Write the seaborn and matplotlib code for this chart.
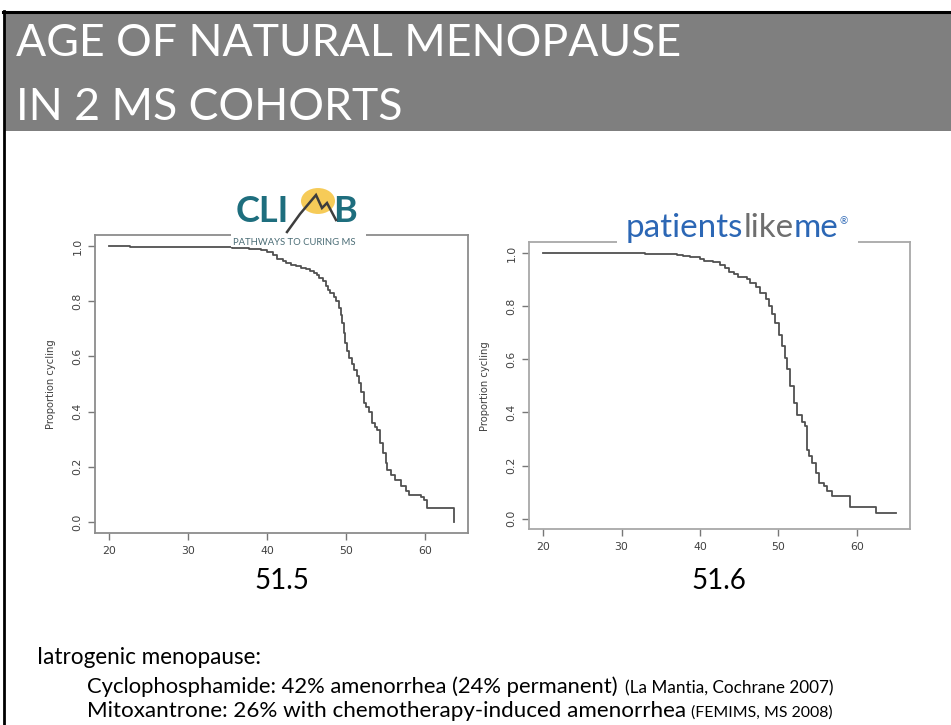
import matplotlib
matplotlib.use("Agg")
import matplotlib.pyplot as plt
import seaborn as sns
import pandas as pd
from matplotlib.patches import Rectangle, Circle
from matplotlib.lines import Line2D

# ---------------- data ----------------
climb_age = [20.0, 22.7, 30.2, 35.6, 37.7, 39.2, 40.0, 40.7, 41.3, 42.0, 42.4, 43.0,
             43.6, 44.3, 44.9, 45.4, 45.9, 46.3, 46.6, 47.0, 47.4, 47.7, 48.0, 48.4,
             48.7, 49.1, 49.3, 49.5, 49.7, 49.9, 50.1, 50.35, 50.7, 51.0, 51.3, 51.6,
             51.9, 52.2, 52.5, 52.9, 53.3, 53.6, 53.9, 54.3, 54.7, 55.0, 55.2, 55.6,
             56.2, 56.9, 57.5, 57.9, 59.4, 59.8, 60.2, 63.6]
climb_prop = [1.000, 0.997, 0.995, 0.992, 0.990, 0.985, 0.978, 0.968, 0.952, 0.944, 0.939, 0.933,
              0.927, 0.921, 0.915, 0.909, 0.903, 0.895, 0.885, 0.872, 0.855, 0.842, 0.830, 0.815,
              0.800, 0.776, 0.750, 0.720, 0.685, 0.650, 0.620, 0.595, 0.572, 0.552, 0.528, 0.504,
              0.470, 0.430, 0.415, 0.400, 0.360, 0.345, 0.335, 0.287, 0.250, 0.215, 0.190, 0.172,
              0.153, 0.129, 0.111, 0.099, 0.090, 0.081, 0.051, 0.000]

plm_age = [20.0, 33.0, 35.8, 37.1, 37.9, 38.8, 40.0, 40.5, 41.7, 42.6, 43.2, 43.7, 44.3,
           44.9, 46.0, 46.4, 47.1, 47.7, 48.4, 48.8, 49.2, 49.6, 50.1, 50.5, 50.8, 51.1,
           51.5, 52.0, 52.4, 53.0, 53.4, 53.6, 53.9, 54.3, 54.8, 55.2, 55.8, 56.2, 56.9,
           59.1, 59.2, 62.5, 65.0]
plm_prop = [1.000, 0.997, 0.995, 0.992, 0.988, 0.985, 0.978, 0.970, 0.964, 0.956, 0.944, 0.927, 0.919,
            0.908, 0.902, 0.887, 0.870, 0.848, 0.828, 0.800, 0.770, 0.735, 0.690, 0.650, 0.605, 0.565,
            0.500, 0.436, 0.390, 0.362, 0.348, 0.260, 0.236, 0.210, 0.173, 0.135, 0.122, 0.104, 0.085,
            0.060, 0.045, 0.023, 0.023]

x_ticks = [20, 30, 40, 50, 60]
y_ticks = [0.0, 0.2, 0.4, 0.6, 0.8, 1.0]
y_label = "Proportion cycling"
medians = ["51.5", "51.6"]
title_lines = ["AGE OF NATURAL MENOPAUSE", "IN 2 MS COHORTS"]

# ---------------- figure ----------------
W, H = 951, 725
fig = plt.figure(figsize=(W / 100, H / 100), dpi=100)
fig.patch.set_facecolor("white")
FONT = "Lato"


def P(x, y):
    return (x / W, 1 - y / H)


def rect_px(x0, y0, x1, y1, **kw):
    fig.patches.append(Rectangle(P(x0, y1), (x1 - x0) / W, (y1 - y0) / H,
                                 transform=fig.transFigure, **kw))


renderer = fig.canvas.get_renderer()


def fit(t, width_px):
    w = t.get_window_extent(renderer).width
    t.set_fontsize(t.get_fontsize() * width_px / w)
    return t


def text_px(x, y, s, **kw):
    kw.setdefault("ha", "left")
    kw.setdefault("va", "baseline")
    return fig.text(*P(x, y), s, **kw)


def right_px(t):
    return t.get_window_extent(renderer).x1


# slide frame + title bar
rect_px(5, 13, 951, 131, facecolor="#7f7f7f", edgecolor="none", zorder=0)
fig.lines.append(Line2D([3 / W, 1], [1 - 12 / H, 1 - 12 / H], transform=fig.transFigure,
                        color="black", lw=2.2))
fig.lines.append(Line2D([4 / W, 4 / W], [0, 1 - 11 / H], transform=fig.transFigure,
                        color="black", lw=2.0))

t1 = text_px(16, 56, title_lines[0], color="white", family=FONT, fontsize=30)
fit(t1, 664)
text_px(16, 120, title_lines[1], color="white", family=FONT, fontsize=t1.get_fontsize())

# ---------------- KM plots ----------------
def km_axes(rect, ages, props, spine_col):
    ax = fig.add_axes(rect)
    df = pd.DataFrame({"age": ages, "prop": props})
    sns.lineplot(data=df, x="age", y="prop", ax=ax, drawstyle="steps-post",
                 color="#505050", lw=1.3, estimator=None, sort=False)
    pad = 0.04 * (max(ages) - min(ages))
    ax.set_xlim(min(ages) - pad, max(ages) + pad)
    ax.set_ylim(-0.04, 1.04)
    ax.set_xticks(x_ticks)
    ax.set_xticklabels([str(v) for v in x_ticks])
    ax.set_yticks(y_ticks)
    ax.set_yticklabels([f"{v:.1f}" for v in y_ticks], rotation=90, va="center")
    ax.tick_params(length=5, width=1, color="#777", labelsize=7.8, labelcolor="#404040",
                   pad=4, direction="out")
    ax.set_xlabel("")
    ax.set_ylabel(y_label, fontsize=7.2, color="#404040", labelpad=12)
    for sp in ax.spines.values():
        sp.set_color(spine_col)
        sp.set_linewidth(1.3)
    ax.set_facecolor("white")
    return ax


ax1 = km_axes([95 / W, 1 - 533 / H, 372.7 / W, 298 / H], climb_age, climb_prop, "#8c8c8c")
ax2 = km_axes([529 / W, 1 - 529.3 / H, 381 / W, 287 / H], plm_age, plm_prop, "#a8a8a8")

# medians
text_px(282, 589, medians[0], ha="center", family=FONT, fontsize=20, color="black")
text_px(719, 589, medians[1], ha="center", family=FONT, fontsize=20, color="black")

# ---------------- CLIMB logo ----------------
rect_px(231, 226, 366, 246.5, facecolor="white", edgecolor="none", zorder=5)
fig.patches.append(Circle(P(318, 201), 17 / W, transform=fig.transFigure,
                          facecolor="#f6cb58", edgecolor="none", zorder=6))
tc = text_px(236, 222, "CLI", color="#1e6e7e", family=FONT, fontweight="bold",
             fontsize=26, zorder=7)
text_px(333, 222, "B", color="#1e6e7e", family=FONT, fontweight="bold",
        fontsize=26, zorder=7)
mx = [287, 300, 316, 322, 327, 336]
my = [232, 214, 195, 208, 203, 220]
fig.lines.append(Line2D([v / W for v in mx], [1 - v / H for v in my], transform=fig.transFigure,
                        color="#3d3d3d", lw=1.8, zorder=8, solid_joinstyle="miter"))
tp = text_px(233, 245, "PATHWAYS TO CURING MS", color="#4b6d76", family=FONT,
             fontsize=6, zorder=7)
fit(tp, 124)

# ---------------- patientslikeme logo ----------------
rect_px(617, 232, 858, 247, facecolor="white", edgecolor="none", zorder=5)
tmp = text_px(626, 237, "patientslikeme", family=FONT, fontsize=24)
fit(tmp, 212)
fs = tmp.get_fontsize()
tmp.remove()
x = 626
for s, col in [("patients", "#2c67b5"), ("like", "#6e6e6e"), ("me", "#2c67b5")]:
    tt = text_px(x, 237, s, color=col, family=FONT, fontsize=fs, zorder=7)
    x = right_px(tt)
text_px(x + 1, 224, "®", color="#2c67b5", family=FONT, fontsize=fs * 0.3, zorder=7)

# ---------------- bottom text ----------------
b1 = text_px(37, 664, "Iatrogenic menopause:", family=FONT, fontsize=16, color="black")
fit(b1, 225)
b2 = text_px(87, 693, "Cyclophosphamide: 42% amenorrhea (24% permanent)", family=FONT,
             fontsize=16, color="black")
fit(b2, 535)
b3 = text_px(right_px(b2) + 7, 693, "(La Mantia, Cochrane 2007)", family=FONT,
             fontsize=11, color="black")
fit(b3, 209)
b4 = text_px(87, 717, "Mitoxantrone: 26% with chemotherapy-induced amenorrhea", family=FONT,
             fontsize=16, color="black")
fit(b4, 600)
b5 = text_px(right_px(b4) + 5, 717, "(FEMIMS, MS 2008)", family=FONT, fontsize=11, color="black")
fit(b5, 141)

fig.savefig("out.png", dpi=100)
